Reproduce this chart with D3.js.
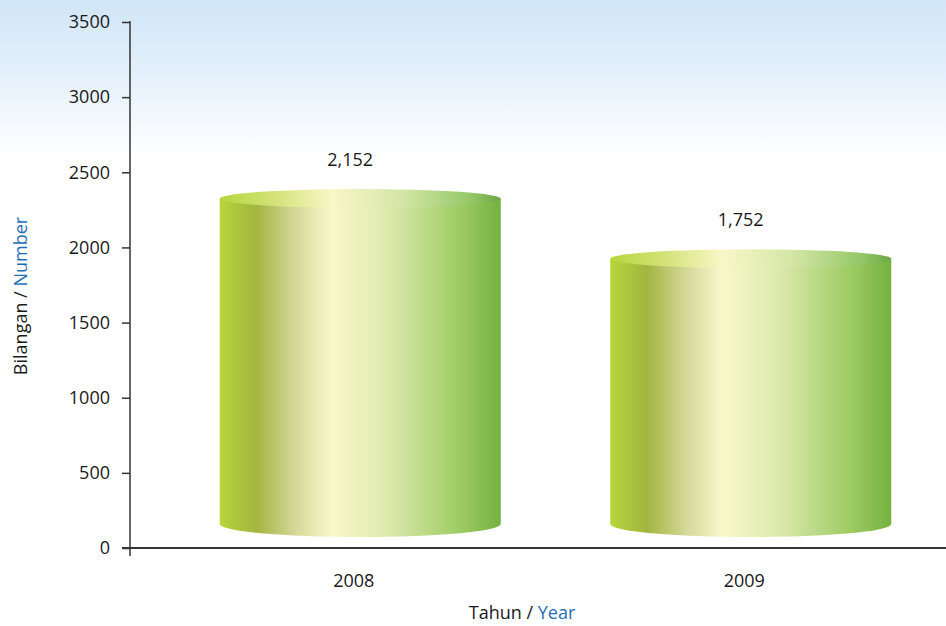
<!DOCTYPE html>
<html lang="en">
	<head>
		<meta charset="utf-8">
		<title>Bilangan / Number</title>
		<script src="https://d3js.org/d3.v7.min.js"></script>
		<style type="text/css">
			body { margin: 0; background: #fff; }
			svg text { font-family: "Open Sans", "Noto Sans", sans-serif; fill: #1a1a1a; }
		</style>
	</head>
	<body>
<div id="chart"></div>
		<script type="text/javascript">
// data
var years = ["2008", "2009"];
var counts = [2152, 1752];
var yTicks = [0, 500, 1000, 1500, 2000, 2500, 3000, 3500];

//Width and height
var w = 946;
var h = 626;
var depth = 26;       // 3D offset of the cylinders
var barW = 281;

var svg = d3.select("div#chart")
			.append("svg")
			.attr("width", w)
			.attr("height", h);

var defs = svg.append("defs");

// background
var bg = defs.append("linearGradient").attr("id", "bg")
	.attr("x1", 0).attr("y1", 0).attr("x2", 0).attr("y2", 1);
bg.append("stop").attr("offset", "0").attr("stop-color", "#d1e6f7");
bg.append("stop").attr("offset", "0.12").attr("stop-color", "#e4f0fb");
bg.append("stop").attr("offset", "0.25").attr("stop-color", "#ffffff");
svg.append("rect").attr("width", w).attr("height", h).attr("fill", "url(#bg)");

// side gradient
var sideGrad = defs.append("linearGradient").attr("id", "side")
	.attr("x1", 0).attr("y1", 0).attr("x2", 1).attr("y2", 0);
[[0, "#b7d53b"], [0.13, "#a3b540"], [0.27, "#d4d89a"], [0.4, "#faf8ca"],
 [0.6, "#dce9ad"], [0.85, "#9fcc65"], [1, "#75b23f"]].forEach(function(s) {
	sideGrad.append("stop").attr("offset", s[0]).attr("stop-color", s[1]);
});
var topGrad = defs.append("linearGradient").attr("id", "topface")
	.attr("x1", 0).attr("y1", 0).attr("x2", 1).attr("y2", 0);
[[0, "#b5d63c"], [0.2, "#d4e37a"], [0.4, "#f8f7c8"],
 [0.65, "#d4e6a6"], [0.9, "#93c766"], [1, "#6ba547"]].forEach(function(s) {
	topGrad.append("stop").attr("offset", s[0]).attr("stop-color", s[1]);
});

// scales
var xScale = d3.scalePoint().domain(years).range([165, 946]).padding(0.5);
var yScale = d3.scaleLinear().domain([0, 3500]).range([548, 22]);

// y axis
var yAxis = d3.axisLeft(yScale).tickValues(yTicks).tickSize(8).tickPadding(12).tickFormat(d3.format("d"));
var gy = svg.append("g")
	.attr("transform", "translate(130,0)")
	.call(yAxis);
gy.select(".domain").attr("d", "M0,21V556").attr("stroke", "#333").attr("stroke-width", 1.5);
gy.selectAll(".tick line").attr("stroke", "#333").attr("stroke-width", 1.5);
gy.selectAll(".tick text").style("font-size", "18px").attr("fill", "#1a1a1a");

// x axis
var xAxis = d3.axisBottom(xScale).tickSize(0).tickPadding(26);
var gx = svg.append("g")
	.attr("transform", "translate(0,548)")
	.call(xAxis);
gx.select(".domain").attr("d", "M122,0H946").attr("stroke", "#333").attr("stroke-width", 2);
gx.selectAll(".tick text").style("font-size", "18px").attr("dx", -7).attr("fill", "#1a1a1a");

// cylinders
var bars = svg.selectAll("g.cyl")
	.data(years.map(function(y, i) { return {year: y, value: counts[i]}; }))
	.enter()
	.append("g")
	.attr("class", "cyl");

bars.append("path")
	.attr("fill", "url(#side)")
	.attr("d", function(d) {
		var cx = xScale(d.year), x0 = cx - barW / 2, x1 = cx + barW / 2;
		var yt = yScale(d.value) - depth, yb = yScale(0) - depth + 2;
		return "M" + x0 + "," + yt + "L" + x0 + "," + yb +
			"A" + (barW / 2) + ",13 0 0,0 " + x1 + "," + yb +
			"L" + x1 + "," + yt + "Z";
	});

bars.append("ellipse")
	.attr("fill", "url(#topface)")
	.attr("cx", function(d) { return xScale(d.year); })
	.attr("cy", function(d) { return yScale(d.value) - depth; })
	.attr("rx", barW / 2)
	.attr("ry", 9.5);

bars.append("text")
	.attr("x", function(d) { return xScale(d.year) - 10; })
	.attr("y", function(d) { return yScale(d.value) - depth - 33; })
	.attr("text-anchor", "middle")
	.style("font-size", "18px")
	.text(function(d) { return d3.format(",")(d.value); });

// axis titles
var xt = svg.append("text")
	.attr("x", 522).attr("y", 619)
	.attr("text-anchor", "middle")
	.style("font-size", "18px");
xt.append("tspan").text("Tahun / ");
xt.append("tspan").style("fill", "#1f6fb8").text("Year");

var yt = svg.append("text")
	.attr("transform", "translate(27,296) rotate(-90)")
	.attr("text-anchor", "middle")
	.style("font-size", "18px");
yt.append("tspan").text("Bilangan / ");
yt.append("tspan").style("fill", "#1f6fb8").text("Number");

		</script>
	</body>
</html>
